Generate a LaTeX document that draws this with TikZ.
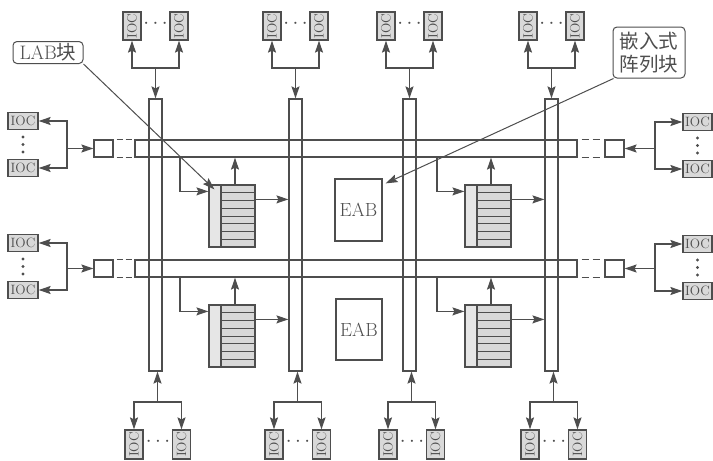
\documentclass[tikz,border=0pt]{standalone}
\usepackage{fontspec}
\newfontfamily\cjk{Noto Sans CJK SC}
\usetikzlibrary{arrows.meta,calc}
\definecolor{lc}{HTML}{4E4E4E}
\definecolor{boxg}{HTML}{D9D9D9}
\definecolor{stripg}{HTML}{E6E6E6}
\definecolor{rowg}{HTML}{D8D8D8}
\begin{document}
\begin{tikzpicture}[x=1pt,y=-1pt,color=lc,line width=1.2pt,
  arr/.style={-{Stealth[length=12pt,width=8pt,inset=2pt]},line width=1.2pt},
  chan/.style={draw,rectangle,inner sep=0pt},
  iocH/.style={draw,fill=boxg,rectangle,inner sep=0pt,minimum width=30pt,minimum height=17pt,font=\fontsize{13.5}{14}\selectfont},
  iocV/.style={draw,fill=boxg,rectangle,inner sep=0pt,minimum width=18pt,minimum height=28pt,font=\fontsize{13.5}{14}\selectfont},
  dotsnode/.style={inner sep=0pt,font=\fontsize{20}{20}\selectfont},
  dotc/.style={fill=lc,draw=none},
  labbox/.style={draw,rectangle,inner sep=0pt,minimum width=46pt,minimum height=62pt},
  eabbox/.style={draw,rectangle,inner sep=0pt,minimum width=47pt,minimum height=62pt,font=\fontsize{19}{20}\selectfont},
  callout/.style={draw,rectangle,rounded corners=4pt,inner sep=0pt,fill=white,line width=1pt},
  dashext/.style={line width=1.2pt,dash pattern=on 0pt off 3pt on 6pt off 3pt on 6pt off 30pt},
  dashextr/.style={line width=1.2pt,dash pattern=on 0pt off 4pt on 7pt off 4pt on 7pt off 30pt}
]
\fill[white] (0,0) rectangle (713,461);
\useasboundingbox (0,0) rectangle (713,461);

% columns and rows
\foreach \c [count=\i] in {155.5,295.5,409.5,551.5}
  \node[chan,minimum width=13pt,minimum height=272pt] (col\i) at (\c,235) {};
\node[chan,minimum width=442pt,minimum height=17pt] (row1) at (356,148.5) {};
\node[chan,minimum width=442pt,minimum height=17pt] (row2) at (356,268.5) {};

% end boxes with dashed extension
\foreach \r/\y in {1/148.5,2/268.5}{
  \node[chan,minimum width=19pt,minimum height=17pt] (lb\r) at (103.5,\y) {};
  \node[chan,minimum width=19pt,minimum height=17pt] (rb\r) at (614.5,\y) {};
  \draw[dashext] (lb\r.north east) -- (row\r.north west);
  \draw[dashext] (lb\r.south east) -- (row\r.south west);
  \draw[dashextr] (row\r.north east) -- (rb\r.north west);
  \draw[dashextr] (row\r.south east) -- (rb\r.south west);
}

% left and right IOC groups
\foreach \r/\y/\ya/\yb in {1/148.5/121/168,2/268.5/243/290}{
  \node[iocH] (iocLa\r) at (23,\ya) {IOC};
  \node[iocH] (iocLb\r) at (23,\yb) {IOC};
  \foreach \d in {-7.5,0,7.5}
    \fill[dotc] (23,{(\ya+\yb)/2+\d}) circle (1.6pt);
  \coordinate (jL\r) at (67,\y);
  \draw[arr] (jL\r) -- (lb\r.west);
  \draw[arr] (jL\r) |- (iocLa\r.east);
  \draw[arr] (jL\r) |- (iocLb\r.east);
  \node[iocH,minimum width=29pt] (iocRa\r) at (697.5,\ya+1) {IOC};
  \node[iocH,minimum width=29pt] (iocRb\r) at (697.5,\yb+1) {IOC};
  \foreach \d in {-7.5,0,7.5}
    \fill[dotc] (697.5,{(\ya+\yb)/2+1+\d}) circle (1.6pt);
  \coordinate (jR\r) at (655,\y);
  \draw[arr] (jR\r) -- (rb\r.east);
  \draw[arr] (jR\r) |- (iocRa\r.west);
  \draw[arr] (jR\r) |- (iocRb\r.west);
}

% top and bottom IOC groups
\foreach \c [count=\i] in {155.5,295.5,409.5,551.5}{
  \node[iocV] (iocTa\i) at (\c-23.5,26) {\rotatebox{90}{IOC}};
  \node[iocV] (iocTb\i) at (\c+23.5,26) {\rotatebox{90}{IOC}};
  \node[dotsnode] (dT\i) at (\c,24) {$\cdots$};
  \coordinate (jT\i) at (\c,68);
  \draw[arr] (jT\i) -- (col\i.north);
  \draw[arr] (jT\i) -| (iocTa\i.south);
  \draw[arr] (jT\i) -| (iocTb\i.south);
  \node[iocV,minimum height=29pt] (iocBa\i) at (\c-21.5,444.5) {\rotatebox{90}{IOC}};
  \node[iocV,minimum height=29pt] (iocBb\i) at (\c+26,444.5) {\rotatebox{90}{IOC}};
  \node[dotsnode] (dB\i) at (\c+2.5,442) {$\cdots$};
  \coordinate (jB\i) at (\c+2,402);
  \draw[arr] (jB\i) -- (jB\i |- col\i.south);
  \draw[arr] (jB\i) -| (iocBa\i.north);
  \draw[arr] (jB\i) -| (iocBb\i.north);
}

% LAB blocks
\foreach \n/\x/\y/\r/\cl/\ix in {1/209/185/1/2/180,2/209/305/2/2/180,3/465/185/1/4/437,4/465/305/2/4/437}{
  \fill[stripg] (\x,\y) rectangle (\x+12,\y+62);
  \foreach \k in {0,...,7}
    \draw[fill=rowg,line width=1pt] (\x+12,\y+\k*7.75) rectangle (\x+46,\y+\k*7.75+7.75);
  \draw (\x+12,\y) -- (\x+12,\y+62);
  \node[labbox] (lab\n) at (\x+23,\y+31) {};
  \coordinate (labin\n) at ($(lab\n.north west)+(0,7)$);
  \coordinate (labtap\n) at (\ix,0);
  \draw[arr] (row\r.south -| labtap\n) |- (labin\n);
  \draw[arr] ([xshift=3pt]lab\n.north) -- ([xshift=3pt]lab\n.north |- row\r.south);
  \coordinate (labout\n) at ($(lab\n.north east)+(0,15)$);
  \draw[arr] (labout\n) -- (labout\n -| col\cl.west);
}

% EAB blocks
\node[eabbox] (eab1) at (358.5,210) {EAB};
\node[eabbox,minimum width=46pt,minimum height=61pt] (eab2) at (359,329.5) {EAB};

% callouts
\node[callout,minimum width=70pt,minimum height=22pt,font=\fontsize{19.5}{20}\selectfont] (labl) at (48,52.5) {LAB{\cjk 块}};
\node[callout,minimum width=72pt,minimum height=51pt,align=center,font=\fontsize{19.5}{23}\cjk] (eabl) at (649,52.5) {嵌入式\\阵列块};
\draw[arr,line width=1pt] (labl.south east) -- ($(lab1.north west)+(6,5)$);
\draw[arr,line width=1pt] ([xshift=1pt]eabl.south west) -- ($(eab1.north east)+(3,5)$);
\end{tikzpicture}
\end{document}
